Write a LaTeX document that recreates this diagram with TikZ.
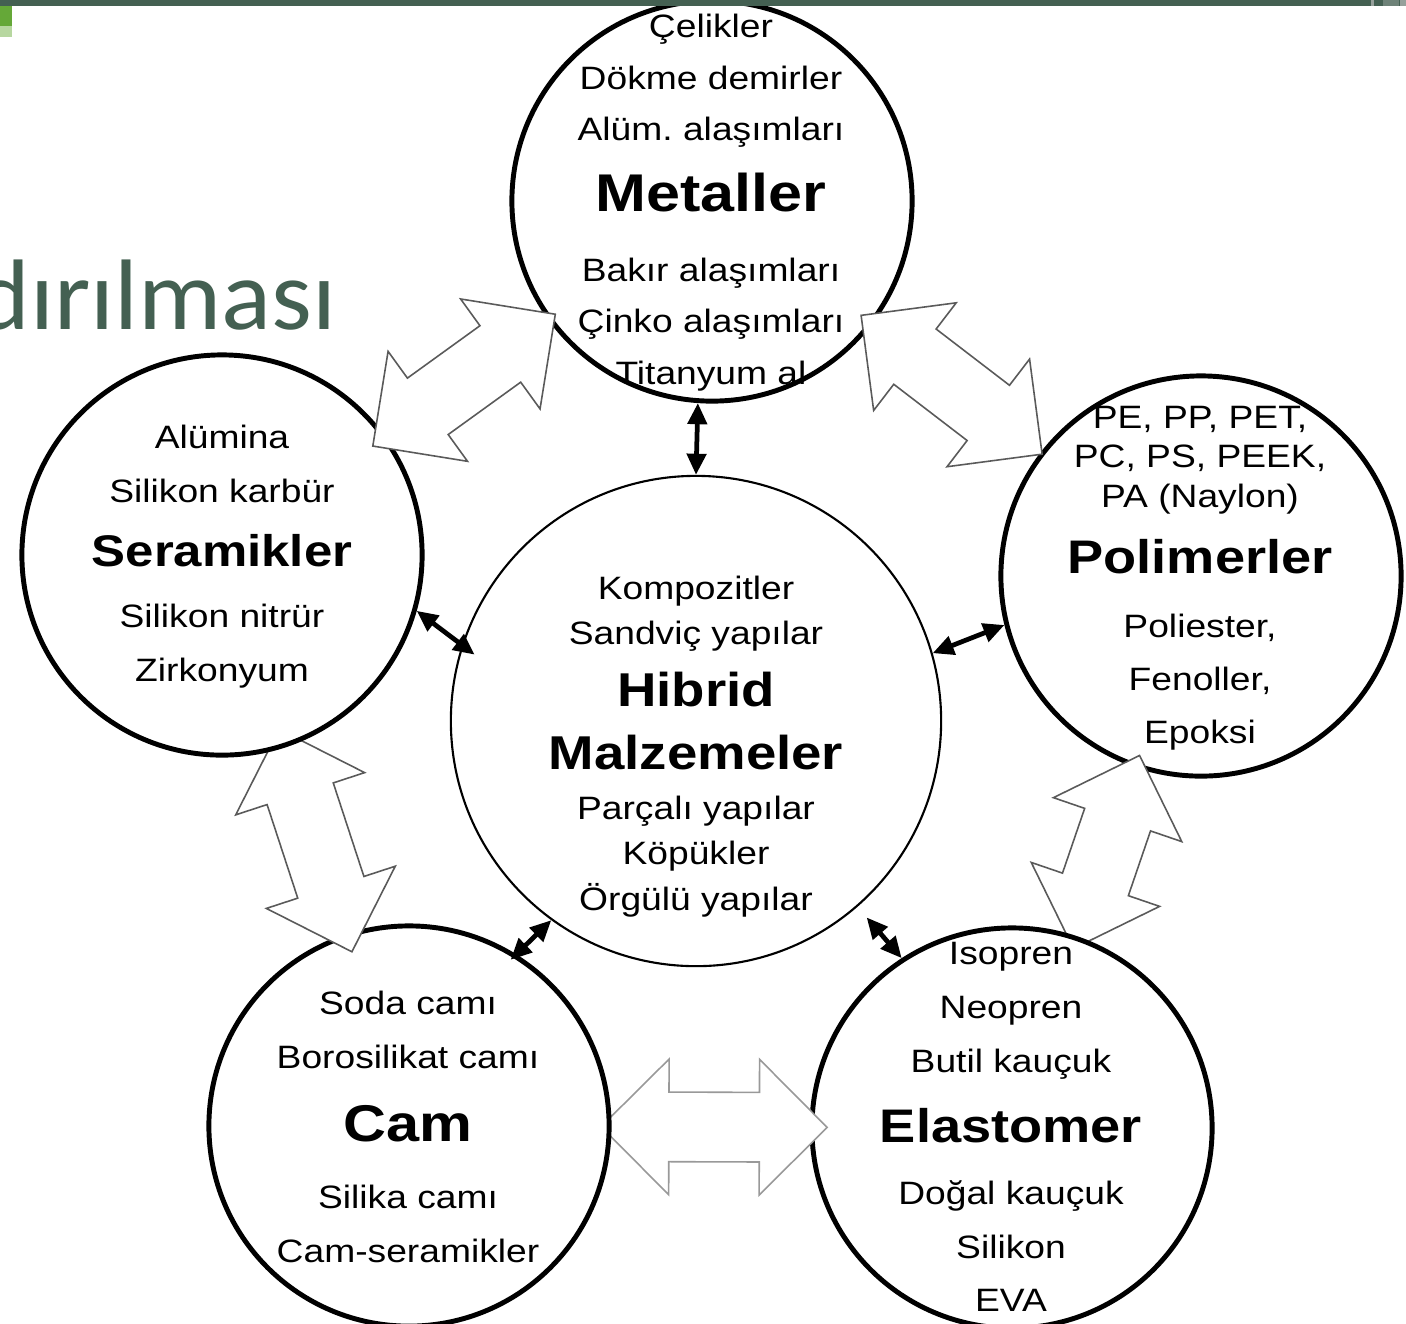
\documentclass[tikz,border=0pt]{standalone}
\usepackage{fontspec}
\setmainfont{Liberation Sans}[FakeStretch=1.15]
\newfontfamily\slidefont{Carlito}[FakeStretch=1.04]
\usepackage{tikz}
\usetikzlibrary{shapes.arrows,arrows.meta}
\definecolor{slidebar}{RGB}{68,96,82}
\definecolor{slidegreen}{RGB}{101,168,56}
\definecolor{slidelight}{RGB}{183,215,160}
\definecolor{slidegray}{RGB}{150,160,155}
\definecolor{slidemid}{RGB}{110,130,120}
\definecolor{hollowline}{RGB}{90,90,90}

\newcommand{\mattitle}[2]{{\fontsize{#1}{#1}\selectfont\bfseries #2}}

\tikzset{
  matcircle/.style={circle,draw=black,line width=1.4pt,fill=white,minimum size=4cm,inner sep=0pt},
  hibcircle/.style={circle,draw=black,line width=0.6pt,fill=white,minimum size=4.9cm,inner sep=0pt},
  mattext/.style={align=center,inner sep=0pt,font={\fontsize{9.2pt}{#1}\selectfont\frenchspacing\lineskiplimit=-30pt\relax}},
  hollow/.style={double arrow,draw=hollowline,fill=white,line width=0.45pt,double arrow tip angle=90,double arrow head extend=0.33cm,inner xsep=0pt,inner ysep=0.34cm,minimum width=1.34cm,minimum height=#1},
  link/.style={{Triangle[length=6pt,width=5.4pt]}-{Triangle[length=6pt,width=5.4pt]},line width=1.35pt},
}

\begin{document}
\begin{tikzpicture}[x=0.01cm,y=-0.01cm]
  \useasboundingbox (0,0) rectangle (1406,1323);
  \clip (0,0) rectangle (1406,1323);
  \fill[white] (0,0) rectangle (1406,1323);

  % circle centres
  \coordinate (metc) at (712,201);
  \coordinate (serc) at (222,555);
  \coordinate (polc) at (1201,576);
  \coordinate (hibc) at (696,721);
  \coordinate (camc) at (409,1126);
  \coordinate (elac) at (1012,1128);

  % circles and hollow arrows, back to front
  \node[matcircle] (pol) at (polc) {};
  \path (polc) -- (elac) node[hollow=2.04cm,midway,sloped] (polela) {};
  \node[matcircle] (ela) at (elac) {};
  \path (camc) -- (elac) node[hollow=2.26cm,pos=0.506,sloped,draw=black!40] (camela) {};
  \node[matcircle] (cam) at (camc) {};
  \path (serc) -- (camc) node[hollow=2.34cm,midway,sloped] (sercam) {};
  \node[matcircle] (ser) at (serc) {};
  \node[matcircle] (met) at (metc) {};
  \node[hibcircle] (hib) at (hibc) {};
  \path (serc) -- (metc) node[hollow=2.25cm,pos=0.494,sloped] (sermet) {};
  \path (metc) -- (polc) node[hollow=2.28cm,pos=0.49,sloped] (metpol) {};

  % links to the hybrid circle
  \draw[link] (met.266) -- (hib.90);
  \draw[link,shorten >=-0.16cm] (ser.344) -- (hib.162);
  \draw[link] (pol.194) -- (hib.16);
  \draw[link,shorten <=-0.08cm] (cam.58) -- (hib.234);
  \draw[link,shorten <=0.14cm] (hib.311) -- (ela.123);

  % texts
  \node[mattext=14.6pt] (mettxt) at (711,202.6) {Çelikler\\Dökme demirler\\Alüm. alaşımları\\[5.6pt]\mattitle{15.1pt}{Metaller}\\[5.3pt]Bakır alaşımları\\Çinko alaşımları\\Titanyum al};
  \node[mattext=15.2pt] (sertxt) at (222,556.6) {Alümina\\Silikon karbür\\[3pt]\mattitle{12.6pt}{Seramikler}\\[2.2pt]Silikon nitrür\\Zirkonyum};
  \node[mattext=15.1pt] (poltxt) at (1200,578.3) {PE, PP, PET,\\[-4.2pt]PC, PS, PEEK,\\[-3.7pt]PA (Naylon)\\[3.7pt]\mattitle{13.4pt}{Polimerler}\\[3.1pt]Poliester,\\Fenoller,\\Epoksi};
  \node[mattext=12.9pt] (hibtxt) at (696,746.2) {Kompozitler\\Sandviç yapılar\\[4.7pt]\mattitle{13.5pt}{Hibrid}\\[5pt]\mattitle{13.5pt}{Malzemeler}\\[1.3pt]Parçalı yapılar\\Köpükler\\Örgülü yapılar};
  \node[mattext=15.3pt] (camtxt) at (408,1126.8) {Soda camı\\Borosilikat camı\\[5.7pt]\mattitle{14.7pt}{Cam}\\[3.7pt]Silika camı\\Cam-seramikler};
  \node[mattext=15.3pt] (elatxt) at (1011,1127.2) {Isopren\\Neopren\\Butil kauçuk\\[4.6pt]\mattitle{13.4pt}{Elastomer}\\[2.3pt]Doğal kauçuk\\Silikon\\EVA};

  % slide remnants
  \node[anchor=base east,inner sep=0pt,text=slidebar,font={\slidefont\fontsize{28.5pt}{30pt}\selectfont}] (slidetitle) at (337,329) {dırılması};
  \fill[slidebar] (0,0) rectangle (1406,6);
  \fill[slidegreen] (0,6) rectangle (12,26);
  \fill[slidelight] (0,26) rectangle (12,37);
  \fill[slidegray] (1371,0) rectangle (1374,6);
  \fill[slidemid] (1383,0) rectangle (1399,6);
  \fill[slidegray] (1400,0) rectangle (1406,6);
\end{tikzpicture}
\end{document}
